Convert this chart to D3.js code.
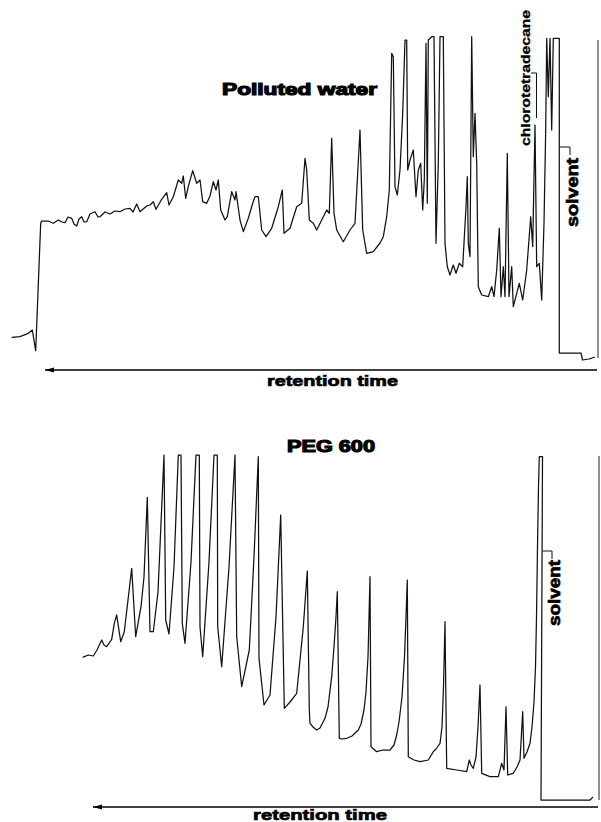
<!DOCTYPE html>
<html>
<head>
<title>Chromatograms</title>
<script src="https://d3js.org/d3.v7.min.js"></script>
<style>
body, html { margin: 0; padding: 0; background: #fff; }
svg { display: block; }
.lbl { font-family: "Liberation Sans", Arial, sans-serif; font-weight: bold; fill: #000; }
</style>
</head>
<body>
<svg id="chart" width="601" height="822"></svg>
<script>
// polluted water trace: chart position (left = late) and pen height above axis
const pollutedPos = [11.7,20,28.3,32.3,35.7,40.7,41.7,48.3,53.3,58.3,62,65,68,71.7,74,76.7,79,81.7,84,86.7,90,95,98,100,105,110,115,120,125,130,133,136.7,140,146.7,150,153.3,156,161.7,166.7,169,173.3,178.3,181.7,183.3,185.7,188.3,192.7,196.7,200,202.7,206.7,210,213.3,216,218.3,220.7,225,227.3,231.7,235,236,240,243.3,248.3,252.7,255,258.3,261.7,266,271.7,278.3,282.3,284,290,296.7,301.7,305,306.7,309.3,313.3,316.7,321.7,326.7,329.3,331.7,334,336.7,343.3,350,355,360,362.7,366.7,373.3,380,383.3,386.7,389.3,391.7,393.3,395,397.3,400,402.7,405,406.7,407.7,410,413.3,416,418.3,420.7,422.7,424.3,426,427.3,428.3,431.7,434,436,438.3,440,443.3,445,447.3,450,453.3,456,459.3,462.7,466,467.3,468.3,470,471.7,473.3,475,476.7,478.3,481.7,488.3,491.7,494,496.7,499.3,501,503.3,505,507.3,509,511.7,513.3,516.7,519.3,522.7,526.7,530.7,532.7,535,536.7,539.3,541.7,544,545.7,546.7,548.3,550,551.7,553.3,556,559.3,559.3,581,582.5,589,595];
const pollutedSignal = [32.7,33.3,36.7,40,19.3,146.7,149,149,146.7,150,148,147.3,153,151.7,146,144,151,153.3,148,148.3,156,158.3,153,153.3,158,156,159,158.3,161,161.7,158,166,158.3,164,165,168.3,160.7,170.7,177.3,165,173.3,190,186.7,194,171.7,183.3,199.3,186.7,190,168.3,166.7,174,188.3,180,190,160,150,153.3,178.3,170,178.3,150,138.3,151.7,166.7,173.3,173.3,140,133.3,141.7,163.3,180,136.7,141.7,163.3,166.7,211.7,200,150,146.7,140,150,160,156.7,231.7,156.7,140,128.3,140,146.7,240,140,116.7,118.3,127,133.3,153.3,180,316.7,313.3,183.3,175,200,256.7,330,330,200,210,220,173.3,200,206.7,160,190,326.7,166.7,330,333.3,333.3,126.7,206.7,333.3,333.3,126.7,103.3,95,105,96.7,106.7,103.3,163.3,193.3,126.7,113.3,333.3,213.3,256.7,206.7,83.3,75,73.3,83.3,73.3,100,141.7,73.3,103.3,73.3,216.7,73.3,103.3,63.3,76.7,86.7,70,100,153.3,123.3,245,103.3,106.7,70,146.7,240,331.7,273.3,331.7,240,331.7,331.7,331.7,17,17,10,11,13];

// PEG 600 trace
const pegPos = [82.7,88.3,93.3,97,101.7,104,106.7,111.7,114.3,116.7,120.7,124.3,128,131.7,135.7,141,144,147.3,150,153.3,158,164,165.7,169,174,178.3,181,182.3,185,191,196,199.3,200,202.7,209,214,217.3,217.7,221.7,229,235,236.7,241.7,249.3,254,258.3,259,264,270,276,280.7,284.3,290,296.7,303.3,307.3,309.3,310,313,316.7,320,325,328,331.7,334,336,337.3,339.3,342,346.7,352,358.3,361,364,366,368,370,371,376.7,383,390,394,396.7,399,402,404.5,406,407.3,408.3,414,420,428.3,433.3,436,440,442,443.5,445,446.7,456.7,466.7,469.3,471,473.3,476,478,480,481.7,490,498.3,501.7,504,506,507.7,513.3,517,520,522.7,524,527,530,532,534,535.5,536.5,537.5,538.5,539.3,542.5,541,590,593];
const pegSignal = [149.7,152,151,157,167,162,160.3,167.7,183.7,192,165.3,175.3,207,238.7,170.3,200.3,230,309.7,175.3,175.3,215,352,187,173,240,352,352,183.7,163.7,245,352,352,180.3,150.3,245,352,352,180.3,140.3,240,352,170.3,120.3,157,250,350.3,148.7,102,112,190,292,98.7,105,113.7,180.3,236,97,83.7,80,77,79,88.7,100,130.3,160,190,215.3,68.7,68,68.7,71,77,83,97,115,150,230.3,60.3,55.3,57,57,62,72,85,110,150,190,227,50.3,47,45.3,47,55.3,58,63.7,80,120,185.3,38.7,37,35.3,47,42,38.7,50,80,122,33.7,30.3,30.3,43.7,37,100.3,32,33.7,40,47,95.3,48.7,55,63.7,80,105,140,190,260,320,350.3,350.3,7,7,10];

const titles = ["Polluted water", "PEG 600"];
const axisLabel = "retention time";
const peakLabels = ["chlorotetradecane", "solvent"];

const svg = d3.select("#chart");

function drawPanel(cfg) {
  const x = d3.scaleLinear().domain([0, 601]).range([0, 601]);
  const y = d3.scaleLinear().domain([0, cfg.top]).range([cfg.axisY, cfg.axisY - cfg.top]);
  const g = svg.append("g");

  // right hand frame of the recorder paper
  g.append("line")
    .attr("x1", x(cfg.frameX)).attr("x2", x(cfg.frameX))
    .attr("y1", y(cfg.frameTop)).attr("y2", y(cfg.frameBottom))
    .attr("stroke", "#222").attr("stroke-width", 1);

  // retention time axis with arrow pointing to the left
  const ax = d3.axisBottom(x).tickValues([]).tickSizeOuter(0);
  const axG = g.append("g")
    .attr("transform", "translate(0," + cfg.axisY + ")")
    .call(ax);
  axG.select(".domain")
    .attr("d", "M" + x(cfg.axisFrom) + ",0H" + x(cfg.axisTo))
    .attr("stroke", "#000").attr("stroke-width", 1.6);
  axG.append("path")
    .attr("d", "M" + x(cfg.axisFrom) + ",0l9,-2.5v5z")
    .attr("fill", "#000");

  g.append("text")
    .attr("class", "lbl")
    .attr("x", x(cfg.axisTextX)).attr("y", cfg.axisTextY)
    .attr("font-size", 15)
    .attr("textLength", cfg.axisTextW).attr("lengthAdjust", "spacingAndGlyphs")
    .style("stroke", "#000").style("stroke-width", 0.7)
    .text(axisLabel);

  const line = d3.line()
    .x(d => x(d[0]))
    .y(d => y(d[1]));

  g.append("path")
    .datum(cfg.pos.map((p, i) => [p, cfg.sig[i]]))
    .attr("fill", "none")
    .attr("stroke", "#111")
    .attr("stroke-width", 1.25)
    .attr("stroke-linejoin", "round")
    .attr("d", line);

  g.append("text")
    .attr("class", "lbl")
    .attr("x", cfg.titleX).attr("y", cfg.titleY)
    .attr("font-size", 17)
    .attr("textLength", cfg.titleW).attr("lengthAdjust", "spacingAndGlyphs")
    .style("stroke", "#000").style("stroke-width", 1.2)
    .text(cfg.title);

  return { g: g, x: x, y: y };
}

function bracket(g, pts) {
  g.append("path")
    .attr("d", d3.line()(pts))
    .attr("fill", "none").attr("stroke", "#111").attr("stroke-width", 1);
}

function vlabel(g, txt, bx, by, size, len, sw) {
  g.append("text")
    .attr("class", "lbl")
    .attr("transform", "translate(" + bx + "," + by + ") rotate(-90)")
    .attr("font-size", size)
    .attr("textLength", len).attr("lengthAdjust", "spacingAndGlyphs")
    .style("stroke", "#000").style("stroke-width", sw)
    .text(txt);
}

const topPanel = drawPanel({
  pos: pollutedPos, sig: pollutedSignal, top: 340, axisY: 370,
  frameX: 598, frameTop: 330, frameBottom: 12,
  axisFrom: 45, axisTo: 597,
  axisTextX: 267, axisTextY: 386, axisTextW: 131,
  title: titles[0], titleX: 222, titleY: 95, titleW: 155
});
bracket(topPanel.g, [[531, 73], [536.5, 73], [536.5, 118]]);
bracket(topPanel.g, [[559.5, 147], [570, 147], [570, 155]]);
vlabel(topPanel.g, peakLabels[0], 529.5, 146, 12.5, 136, 0.3);
vlabel(topPanel.g, peakLabels[1], 577.5, 227, 16, 69, 0.7);

const botPanel = drawPanel({
  pos: pegPos, sig: pegSignal, top: 352, axisY: 807,
  frameX: 599, frameTop: 351, frameBottom: 7,
  axisFrom: 93, axisTo: 598,
  axisTextX: 253, axisTextY: 820, axisTextW: 134,
  title: titles[1], titleX: 287, titleY: 452, titleW: 88
});
bracket(botPanel.g, [[542.5, 551], [552, 551], [552, 559]]);
vlabel(botPanel.g, peakLabels[1], 560, 626, 16, 66, 0.7);
</script>
</body>
</html>
